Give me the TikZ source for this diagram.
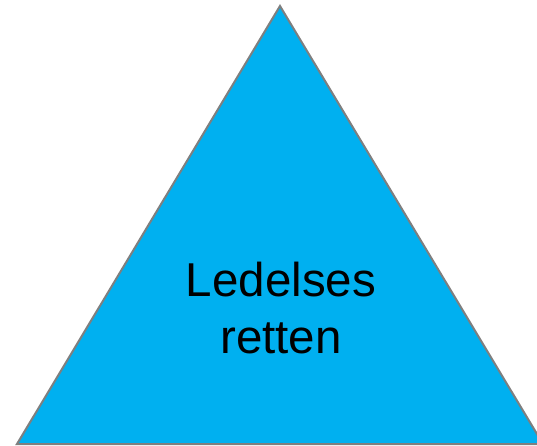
\documentclass[tikz,border=0pt]{standalone}
\usepackage{fontspec}
\setmainfont{Liberation Sans}
\definecolor{triblue}{HTML}{00B0F0}
\definecolor{trigray}{HTML}{7F7F7F}
\tikzset{tri/.style={fill=triblue,draw=trigray,line width=2pt,line join=miter},
  lbl/.style={align=center,font=\fontsize{47.5}{57}\selectfont,text=black,inner sep=0pt}}
\begin{document}
\begin{tikzpicture}[x=1pt,y=-1pt]
\useasboundingbox (0,0) rectangle (537,446);
\clip (0,0) rectangle (537,446);
\coordinate (apex) at (280,6);
\coordinate (bl) at (17,444);
\coordinate (br) at (543,444);
\draw[tri] (apex) -- (bl) -- (br) -- cycle;
\node[lbl,anchor=base] (t1) at (281,296) {Ledelses};
\node[lbl,anchor=base] (t2) at (281,353) {retten};
\end{tikzpicture}
\end{document}
